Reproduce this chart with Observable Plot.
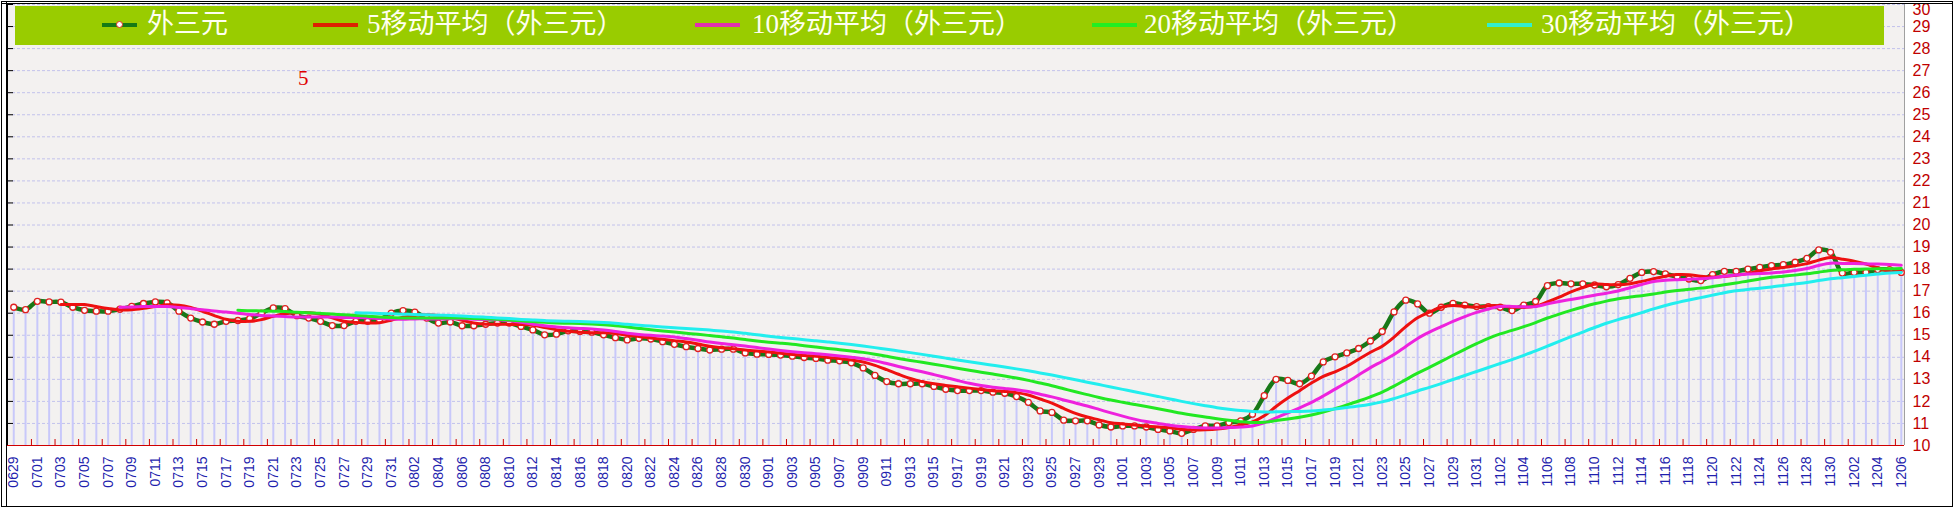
<!DOCTYPE html>
<html>
<head>
<meta charset="utf-8">
<script src="https://cdn.jsdelivr.net/npm/d3@7"></script>
<script src="https://cdn.jsdelivr.net/npm/@observablehq/plot@0.6"></script>
<style>
html, body { margin: 0; padding: 0; background: #ffffff; }
#wrap { position: relative; width: 1954px; height: 513px; overflow: hidden; }
#chart svg { display: block; }
.legend { position: absolute; left: 15px; top: 6px; width: 1869px; height: 39px; background: #99cc00; }
.sw { position: absolute; top: 17px; height: 4px; }
.mk { position: absolute; top: 15px; width: 5px; height: 5px; border: 1.5px solid #e03020; border-radius: 50%; background: #ffffff; }
.lt { position: absolute; top: -1px; line-height: 39px; font-size: 27px; color: #fffff0; white-space: nowrap;
      font-family: "Liberation Serif", "Noto Sans CJK SC", serif; }
.note { position: absolute; left: 298px; top: 68px; font-size: 21px; line-height: 21px; color: #e00000;
        font-family: "Liberation Serif", serif; }
.outer { position: absolute; left: 1px; top: 1px; width: 1950px; height: 504px; border: 1px solid #000; pointer-events: none; }
.outer2 { position: absolute; left: 1px; top: 3px; width: 1952px; height: 1px; background: #000; }
.lline { position: absolute; left: 6px; top: 2px; width: 1px; height: 504px; background: #000; }
</style>
</head>
<body>
<div id="wrap">
  <div id="chart"></div>
</div>
<script>
// ---- data ----
const dates = ("0629 0630 " +
  "0701 0702 0703 0704 0705 0706 0707 0708 0709 0710 0711 0712 0713 0714 0715 0716 0717 0718 0719 0720 0721 0722 0723 0724 0725 0726 0727 0728 0729 0730 0731 " +
  "0801 0802 0803 0804 0805 0806 0807 0808 0809 0810 0811 0812 0813 0814 0815 0816 0817 0818 0819 0820 0821 0822 0823 0824 0825 0826 0827 0828 0829 0830 0831 " +
  "0901 0902 0903 0904 0905 0906 0907 0908 0909 0910 0911 0912 0913 0914 0915 0916 0917 0918 0919 0920 0921 0922 0923 0924 0925 0926 0927 0928 0929 0930 " +
  "1001 1002 1003 1004 1005 1006 1007 1008 1009 1010 1011 1012 1013 1014 1015 1016 1017 1018 1019 1020 1021 1022 1023 1024 1025 1026 1027 1028 1029 1030 1031 " +
  "1101 1102 1103 1104 1105 1106 1107 1108 1109 1110 1111 1112 1113 1114 1115 1116 1117 1118 1119 1120 1121 1122 1123 1124 1125 1126 1127 1128 1129 1130 " +
  "1201 1202 1203 1204 1205 1206").split(" ");

const values = [
  16.27, 16.16, 16.54, 16.51, 16.50, 16.27, 16.13, 16.09, 16.09, 16.18,
  16.31, 16.44, 16.51, 16.47, 16.09, 15.78, 15.60, 15.50, 15.63, 15.67,
  15.75, 16.00, 16.24, 16.21, 15.89, 15.78, 15.63, 15.44, 15.44, 15.63,
  15.63, 15.70, 16.00, 16.12, 16.05, 15.78, 15.55, 15.60, 15.43, 15.43,
  15.50,
  15.55, 15.55, 15.40, 15.24, 15.02, 15.05, 15.20, 15.17, 15.14, 15.02,
  14.89, 14.79, 14.86, 14.83, 14.71, 14.59, 14.48, 14.40, 14.33, 14.37,
  14.37, 14.20, 14.14, 14.13, 14.10, 14.05, 13.99, 13.95, 13.87, 13.84,
  13.75, 13.52, 13.18, 12.90, 12.80, 12.80, 12.80, 12.68, 12.55, 12.49,
  12.49,
  12.49, 12.42, 12.37, 12.22, 11.96, 11.57, 11.50, 11.15, 11.12, 11.12,
  10.93, 10.84, 10.89, 10.89, 10.84, 10.73, 10.66, 10.55, 10.73, 10.89,
  10.89, 11.04, 11.12, 11.42, 12.26, 13.00, 12.95, 12.80, 13.15, 13.79,
  14.02, 14.20, 14.40, 14.74, 15.17, 16.06, 16.59, 16.42, 16.00, 16.27,
  16.45,
  16.37, 16.30, 16.30, 16.27, 16.12, 16.37, 16.53, 17.25, 17.37, 17.33,
  17.33, 17.28, 17.20, 17.30, 17.58, 17.85, 17.89, 17.78, 17.66, 17.55,
  17.48, 17.75, 17.90, 17.90, 18.00, 18.08, 18.16, 18.20, 18.31, 18.49,
  18.87, 18.76, 17.82, 17.85, 17.85, 17.98, 17.98, 17.85
];

const seriesName = "外三元";
const maPeriods = [5, 10, 20, 30];
const maNames = ["5移动平均（外三元）", "10移动平均（外三元）", "20移动平均（外三元）", "30移动平均（外三元）"];
const maColors = ["#ee1010", "#ee22dd", "#22e822", "#22eeee"];
const legendSwatchColors = ["#dd2200", "#e030b0", "#22ee22", "#33eecc"];
const yTicks = d3.range(10, 31);
const noteText = "5";

// ---- build ----
const rows = values.map((v, i) => ({i, date: dates[i], v}));
const n = rows.length;
const xDomain = [-0.53, n - 1 + 0.27];
const labelIdx = d3.range(0, n, 2);
const redTickIdx = d3.range(1, n, 2).map(i => i + 0.5).filter(d => d < xDomain[1]);
const yMax = yTicks[yTicks.length - 1];

const marks = [
  Plot.frame({fill: "#f3f1f0", stroke: "none"}),
  Plot.gridY(yTicks.slice(1), {stroke: "#c2c2ec", strokeOpacity: 1, strokeDasharray: "3,2"}),
  Plot.ruleX(rows, {x: "i", y1: 10, y2: "v", stroke: "#c8c8fa", strokeWidth: 2}),
  Plot.ruleX([xDomain[1]], {stroke: "#a0a0a0"}),
  Plot.ruleX([xDomain[0]], {stroke: "#000000"}),
  Plot.ruleY(yTicks.slice(1), {y: d => d, x1: xDomain[0], x2: xDomain[0], insetRight: -6, stroke: "#000000"}),
  Plot.ruleY([10], {stroke: "#d00000"}),
  Plot.ruleX(redTickIdx, {x: d => d, y1: 10, y2: 10, insetBottom: 6, stroke: "#d00000"}),
  Plot.lineY(rows, {x: "i", y: "v", stroke: "#187818", strokeWidth: 4.5, curve: "catmull-rom"}),
  Plot.dot(rows, {x: "i", y: "v", r: 3, fill: "#ffffff", stroke: "#e02020", strokeWidth: 1.3}),
];
maPeriods.forEach((k, j) => {
  marks.push(Plot.lineY(rows, Plot.windowY({k, anchor: "end", reduce: "mean", strict: true},
    {x: "i", y: "v", stroke: maColors[j], strokeWidth: 3, curve: "catmull-rom"})));
});
marks.push(
  Plot.axisX(labelIdx, {tickSize: 0, tickRotate: -90, tickPadding: 11, tickFormat: i => dates[i],
    color: "#1f1fae", fontSize: 14, label: null}),
  Plot.axisY(yTicks.filter(d => d < yMax), {anchor: "right", tickSize: 0, tickPadding: 8, color: "#c00000", fontSize: 16, label: null}),
  Plot.axisY([yMax], {anchor: "right", tickSize: 0, tickPadding: 8, color: "#c00000", fontSize: 16, label: null, dy: 5})
);

const chart = Plot.plot({
  width: 1954, height: 513,
  marginLeft: 7, marginRight: 50, marginTop: 4, marginBottom: 68,
  style: {fontFamily: "Liberation Sans, sans-serif", background: "transparent", overflow: "visible"},
  x: {type: "linear", domain: xDomain, label: null},
  y: {domain: [10, 30], label: null},
  marks
});
document.getElementById("chart").appendChild(chart);

// ---- legend & overlays ----
const wrap = document.getElementById("wrap");
const legend = document.createElement("div");
legend.className = "legend";
const items = [
  {name: seriesName, color: "#157a15", sw: 87, sww: 35, tx: 132, marker: true},
  {name: maNames[0], color: legendSwatchColors[0], sw: 298, sww: 45, tx: 352},
  {name: maNames[1], color: legendSwatchColors[1], sw: 680, sww: 45, tx: 737},
  {name: maNames[2], color: legendSwatchColors[2], sw: 1077, sww: 45, tx: 1129},
  {name: maNames[3], color: legendSwatchColors[3], sw: 1472, sww: 45, tx: 1526}
];
items.forEach(it => {
  const s = document.createElement("div");
  s.className = "sw";
  s.style.left = it.sw + "px";
  s.style.width = it.sww + "px";
  s.style.background = it.color;
  legend.appendChild(s);
  if (it.marker) {
    const m = document.createElement("div");
    m.className = "mk";
    m.style.left = (it.sw + it.sww / 2 - 4) + "px";
    legend.appendChild(m);
  }
  const t = document.createElement("div");
  t.className = "lt";
  t.style.left = it.tx + "px";
  t.textContent = it.name;
  legend.appendChild(t);
});
wrap.appendChild(legend);

const note = document.createElement("div");
note.className = "note";
note.textContent = noteText;
wrap.appendChild(note);

["outer", "outer2", "lline"].forEach(c => {
  const d = document.createElement("div");
  d.className = c;
  wrap.appendChild(d);
});
</script>
</body>
</html>
